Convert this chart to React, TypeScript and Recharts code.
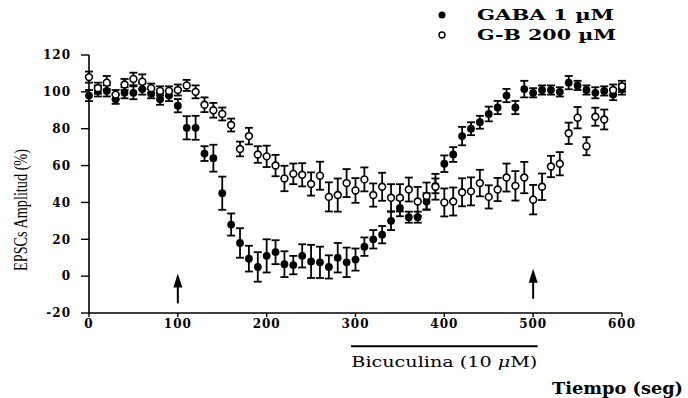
import React from "react";
import {
  ScatterChart, Scatter, XAxis, YAxis, ErrorBar, ReferenceLine,
} from "recharts";

// time (s), one sample every ~10 s
const times = [
  0, 10, 20, 30, 40, 50, 60, 70, 80, 90,
  100, 110, 120, 130, 140, 150, 160, 170, 180, 190,
  200, 210, 220, 230, 240, 250, 260, 270, 280, 290,
  300, 310, 320, 330, 340, 350, 360, 370, 380, 390,
  400, 410, 420, 430, 440, 450, 460, 470, 480, 490,
  500, 510, 520, 530, 540, 550, 560, 570, 580, 590, 600,
];

// GABA 1 µM (filled)
const gabaMean = [
  98, 100.5, 100.5, 96, 99.5, 99.5, 101.5, 99, 96, 98,
  92.5, 80.5, 80.5, 66.5, 64, 45, 28, 18, 9.5, 5,
  11, 13, 6.5, 6, 11, 8, 7.5, 5, 10, 7.5,
  9, 16, 20, 22.5, 30, 37, 32, 32, 40.5, 49,
  61, 66, 76, 80, 83.5, 88, 91.5, 98, 91.5, 101.5,
  99.5, 101, 101, 100, 105, 103.5, 101, 99.5, 100.5, 98.5, 101.5,
];
const gabaSem = [
  3, 3, 3, 2.5, 3, 3.5, 3, 2.5, 3, 3,
  3.6, 6.3, 6.5, 4, 7.3, 9, 6, 8, 7, 8,
  9, 6.5, 7, 5, 6.3, 9, 8.5, 6.3, 8, 8,
  6, 5, 5, 4.7, 5, 4.5, 3, 3, 4.5, 4,
  4.5, 4, 5, 3.5, 3.5, 4, 3.6, 3.6, 3.6, 4.5,
  2.5, 2.5, 2.5, 2.5, 3.6, 2.5, 2.5, 3, 2.5, 3, 3,
];

// G-B 200 µM (open)
const gbMean = [
  108, 102, 105, 98.5, 104, 107, 105.5, 102, 100.5, 100.5,
  101, 103.5, 100, 93, 90, 88, 82, 69, 76, 66,
  65, 60, 53, 55.5, 55, 50, 54.5, 43, 44, 50.5,
  46.5, 52.5, 44, 48.5, 42.5, 42.5, 47, 40.5, 43.5, 48.5,
  40, 40.5, 45.5, 46, 50.5, 43, 47, 53.5, 49, 53.5,
  41.5, 48.5, 59.5, 61, 77.5, 86, 70.5, 86.5, 85, 101, 103,
];
const gbSem = [
  3, 3, 3.6, 2.5, 3, 3.4, 4, 2.5, 2.5, 2.5,
  3, 3, 3.5, 4, 4, 3.5, 3.5, 4, 4.5, 4.5,
  5.8, 5.8, 6.9, 5.6, 6.3, 6.3, 7.6, 7.9, 9, 7.6,
  6.7, 6.5, 6.3, 7.6, 7.4, 7.4, 6.5, 7.9, 7.3, 7,
  7.6, 7.6, 7.6, 7.6, 7.2, 6.3, 6.3, 7.6, 8, 8.5,
  8, 7.2, 5.8, 6.3, 5.8, 5.8, 4.9, 4.9, 5.4, 3, 3,
];

const xTicks = [0, 100, 200, 300, 400, 500, 600];
const yTicks = [-20, 0, 20, 40, 60, 80, 100, 120];

// application arrows (time, tip height)
const arrowTimes = [100, 500];
const arrowTips = [1.5, 4];

// bicuculline bar under the axis
const bicStart = 295;
const bicEnd = 505;
const bicLevel = -38;

const gabaData = times.map((t, i) => ({ t, v: gabaMean[i], e: gabaSem[i] }));
const gbData = times.map((t, i) => ({ t, v: gbMean[i], e: gbSem[i] }));
const arrowData = arrowTimes.map((t, i) => ({ t, v: arrowTips[i] }));

const serifBold = { fontFamily: "DejaVu Serif", fontWeight: 700 };

const FilledDot = (props: any) => {
  const { cx, cy } = props;
  return <circle cx={cx} cy={cy} r={3.9} fill="#000" />;
};

const OpenDot = (props: any) => {
  const { cx, cy } = props;
  return <circle cx={cx} cy={cy} r={3.4} fill="#fff" stroke="#000" strokeWidth={1.6} />;
};

const Arrow = (props: any) => {
  const { cx, cy } = props;
  return (
    <g>
      <rect x={cx - 1} y={cy + 10} width={2} height={20} fill="#000" />
      <polygon points={`${cx},${cy} ${cx - 4.5},${cy + 14} ${cx + 4.5},${cy + 14}`} fill="#000" />
    </g>
  );
};

export default function App() {
  return (
    <div style={{ position: "absolute", left: 0, top: 0, width: 688, height: 398, background: "#fff" }}>
      <ScatterChart width={688} height={398} margin={{ top: 55, right: 66, bottom: 55, left: 0 }}>
        <XAxis
          type="number" dataKey="t"
          domain={[0, 600]} ticks={xTicks} interval={0}
          height={30} tickSize={4} tickMargin={2}
          axisLine={{ stroke: "#000", strokeWidth: 1.6 }}
          tickLine={{ stroke: "#000", strokeWidth: 1.4 }}
          tick={{ fill: "#000", fontSize: 12, letterSpacing: 1, ...serifBold }}
          label={(p: any) => {
            const vb = p.viewBox;
            return (
              <text x={vb.x + vb.width + 61} y={vb.y + 81} textAnchor="end"
                fontSize={17} fill="#000" textLength={131} lengthAdjust="spacingAndGlyphs" style={serifBold}>
                Tiempo (seg)
              </text>
            );
          }}
        />
        <YAxis
          type="number" dataKey="v"
          domain={[-20, 120]} ticks={yTicks} interval={0}
          width={89} tickSize={8} tickMargin={10}
          axisLine={{ stroke: "#000", strokeWidth: 1.6 }}
          tickLine={{ stroke: "#000", strokeWidth: 1.4 }}
          tick={{ fill: "#000", fontSize: 12, letterSpacing: 1, ...serifBold }}
          label={(p: any) => {
            const vb = p.viewBox;
            return (
              <text transform={`translate(${vb.x + 27},${vb.y + vb.height / 2 + 26}) rotate(-90)`}
                textAnchor="middle" fontSize={19} fill="#000" fontFamily="Liberation Serif"
                textLength={122} lengthAdjust="spacingAndGlyphs">
                EPSCs Amplitud (%)
              </text>
            );
          }}
        />
        <ReferenceLine
          segment={[{ x: bicStart, y: bicLevel }, { x: bicEnd, y: bicLevel }]}
          ifOverflow="visible" stroke="#000" strokeWidth={2}
          label={(p: any) => {
            const vb = p.viewBox;
            return (
              <text x={vb.x + vb.width / 2} y={vb.y + 21} textAnchor="middle" fontSize={14} fill="#000"
                fontFamily="DejaVu Serif" textLength={186} lengthAdjust="spacingAndGlyphs">
                Bicuculina (10 <tspan fontStyle="italic">μ</tspan>M)
              </text>
            );
          }}
        />
        <Scatter data={arrowData} shape={Arrow} isAnimationActive={false} />
        <Scatter data={gabaData} shape={FilledDot} isAnimationActive={false}>
          <ErrorBar dataKey="e" direction="y" width={4} stroke="#000" strokeWidth={1.8} />
        </Scatter>
        <Scatter data={gbData} shape={OpenDot} isAnimationActive={false}>
          <ErrorBar dataKey="e" direction="y" width={4} stroke="#000" strokeWidth={1.8} />
        </Scatter>
      </ScatterChart>

      <svg width={688} height={50} style={{ position: "absolute", left: 0, top: 0 }}>
        <circle cx={442} cy={15} r={3.5} fill="#000" />
        <text x={477} y={20} fontSize={14} fill="#000" textLength={137} lengthAdjust="spacingAndGlyphs" style={serifBold}>
          GABA 1 µM
        </text>
        <circle cx={442} cy={35} r={3} fill="#fff" stroke="#000" strokeWidth={1.4} />
        <text x={477} y={40} fontSize={14} fill="#000" textLength={139} lengthAdjust="spacingAndGlyphs" style={serifBold}>
          G-B 200 µM
        </text>
      </svg>
    </div>
  );
}
